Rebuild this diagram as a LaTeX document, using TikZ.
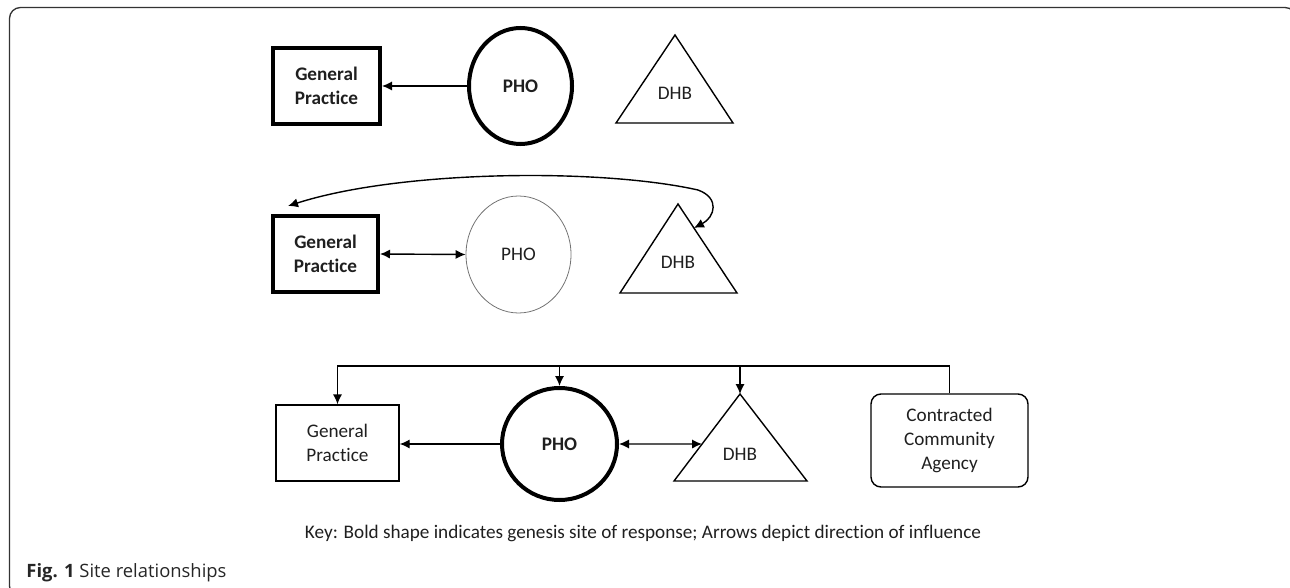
\documentclass[tikz,border=0pt]{standalone}
\usepackage{fontspec}
\setmainfont{Carlito}[Ligatures={NoCommon}]
\newfontfamily\capfont{Open Sans}
\usetikzlibrary{arrows.meta,shapes.geometric,calc}
\begin{document}
\begin{tikzpicture}[x=0.5pt,y=-0.5pt,
  thinline/.style={line width=0.7pt, draw=black},
  boldline/.style={line width=2pt, draw=black},
  lbl/.style={font=\fontsize{9.6}{12}\selectfont, text=black!88, align=center},
  boldlbl/.style={font=\fontsize{9.6}{12}\selectfont\bfseries},
  boxnode/.style={rectangle, inner sep=0pt, lbl},
  ellnode/.style={ellipse, inner sep=0pt, lbl},
  arr/.style={thinline, -{Latex[length=5pt,width=4.6pt]}},
  arrr/.style={thinline, {Latex[length=5pt,width=4.6pt]}-{Latex[length=5pt,width=4.6pt]}},
  framestyle/.style={line width=0.65pt, draw=black!80, rounded corners=5.5pt}
]
\useasboundingbox (0,0) rectangle (1290,588);
\clip (0,0) rectangle (1290,588);
% frame
\draw[framestyle] (9.5,7.5) rectangle (1296,597);

% ---------- top row ----------
\node[boxnode, boldline, boldlbl, minimum width=53.5pt, minimum height=38pt] (gp1) at (326.5,86) {General\\Practice};
\node[ellnode, boldline, boldlbl, minimum width=51.5pt, minimum height=58pt] (pho1) at (520.5,86) {PHO};
\coordinate (t1a) at (675,35);
\coordinate (t1l) at (616,123);
\coordinate (t1r) at (733,123);
\draw[thinline] (t1a) -- (t1r) -- (t1l) -- cycle;
\node[lbl] (dhb1) at (675,93) {DHB};
\draw[arr] (pho1.west) -- (gp1.east |- pho1.west);

% ---------- middle row ----------
\node[boxnode, boldline, boldlbl, minimum width=52.5pt, minimum height=38pt] (gp2) at (325.5,254) {General\\Practice};
\node[ellnode, draw=black!55, line width=0.4pt, minimum width=52.5pt, minimum height=58.5pt] (pho2) at (518.5,254.5) {PHO};
\coordinate (t2a) at (678,204);
\coordinate (t2l) at (620,293);
\coordinate (t2r) at (737,293);
\draw[thinline] (t2a) -- (t2r) -- (t2l) -- cycle;
\node[lbl] (dhb2) at (678,262) {DHB};
\draw[arrr] (gp2.east) -- (pho2.west);
\coordinate (d2r) at ($(t2a)!0.27!(t2r)$);
\draw[arrr] ([shift={(17,-8)}]gp2.north west) .. controls (400,170) and (600,168) .. (698,190)
  .. controls (720,198) and (715,217) .. (d2r);

% ---------- bottom row ----------
\node[boxnode, thinline, minimum width=61.5pt, minimum height=38pt] (gp3) at (337.5,443) {General\\Practice};
\node[ellnode, boldline, boldlbl, minimum width=57.5pt, minimum height=56pt] (pho3) at (559.5,444) {PHO};
\coordinate (t3a) at (740,394);
\coordinate (t3l) at (674,481);
\coordinate (t3r) at (807,481);
\draw[thinline] (t3a) -- (t3r) -- (t3l) -- cycle;
\node[lbl] (dhb3) at (740,454) {DHB};
\node[boxnode, thinline, rounded corners=5pt, minimum width=78.5pt, minimum height=46.5pt] (cca) at (949.5,440.5) {Contracted\\Community\\Agency};
\draw[arr] (pho3.west) -- (gp3.east |- pho3.west);
\coordinate (d3l) at ($(t3a)!0.575!(t3l)$);
\draw[arrr] (pho3.east) -- (d3l);
\coordinate (bus) at (949.5,366);
\draw[arr] (cca.north) -- (bus) -| (gp3.north);
\draw[arr] (pho3.north |- bus) -- (pho3.north);
\draw[arr] (t3a |- bus) -- (t3a);

% ---------- key and caption ----------
\node[lbl] (key) at (643,533) {Key: Bold shape indicates genesis site of response; Arrows depict direction of influence};
\node[anchor=base west, inner sep=0pt, text=black!85, font=\capfont\fontsize{9.2}{11}\selectfont] (cap) at (26,577) {\textbf{Fig. 1} Site relationships};
\end{tikzpicture}
\end{document}
